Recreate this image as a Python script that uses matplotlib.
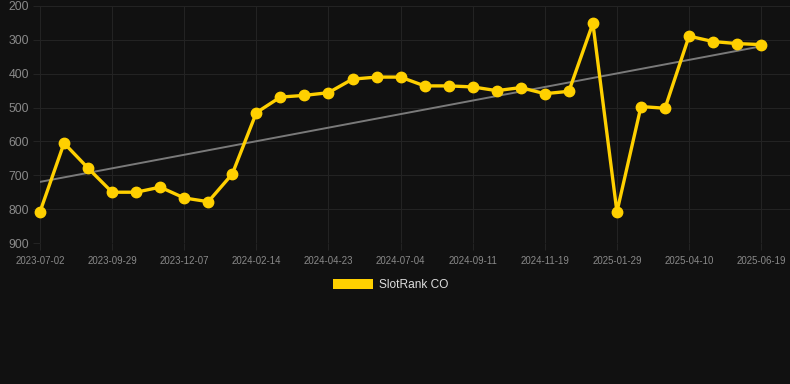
import matplotlib
matplotlib.use('Agg')
import matplotlib.pyplot as plt
from matplotlib.patches import Patch
import numpy as np

plt.rcParams['font.family'] = ['Liberation Sans', 'DejaVu Sans']

# one label every third point, the chart axis is categorical
tick_labels = ['2023-07-02', '2023-09-29', '2023-12-07', '2024-02-14', '2024-04-23',
               '2024-07-04', '2024-09-11', '2024-11-19', '2025-01-29', '2025-04-10',
               '2025-06-19']
ranks = [808, 605, 679, 750, 750, 735, 767, 778, 696, 515,
         469, 464, 456, 416, 410, 410, 436, 436, 439, 450,
         441, 459, 452, 251, 808, 497, 502, 289, 305, 311, 314]
series_name = 'SlotRank CO'

bg = '#111111'
yellow = '#ffd000'
grid = '#232323'

x = np.arange(len(ranks))
slope, icpt = np.polyfit(x, ranks, 1)
trend = slope * x + icpt

fig = plt.figure(figsize=(7.9, 3.84), dpi=100, facecolor=bg)
ax = fig.add_axes([40 / 790, 141 / 384, 750 / 790, 237 / 384], facecolor=bg)

ax.plot(x, trend, color='#7a7a7a', lw=1.4, zorder=2)
ax.plot(x, ranks, color=yellow, lw=2.4, marker='o', ms=7.5, zorder=3, clip_on=False)

ax.set_xlim(0, 31.2)
ax.set_ylim(900, 200)
ax.set_yticks(range(200, 901, 100))
ax.set_xticks(x[::3])
ax.set_xticklabels(tick_labels)
ax.grid(True, color=grid, lw=0.8)
ax.set_axisbelow(True)
for s in ax.spines.values():
    s.set_visible(False)
ax.tick_params(axis='y', colors=grid, labelcolor='#8a8a8a', labelsize=8.8, length=5, pad=3)
ax.tick_params(axis='x', colors=grid, labelcolor='#8a8a8a', labelsize=6.9, length=5, pad=4)

leg = fig.legend(handles=[Patch(facecolor=yellow, label=series_name)],
                 loc='center', bbox_to_anchor=(391 / 790, 1 - 285 / 384),
                 frameon=False, fontsize=8.6, labelcolor='#dddddd',
                 handlelength=3.35, handleheight=1.0, handletextpad=0.5)

plt.savefig('out.png', dpi=100, facecolor=bg)
plt.close()
